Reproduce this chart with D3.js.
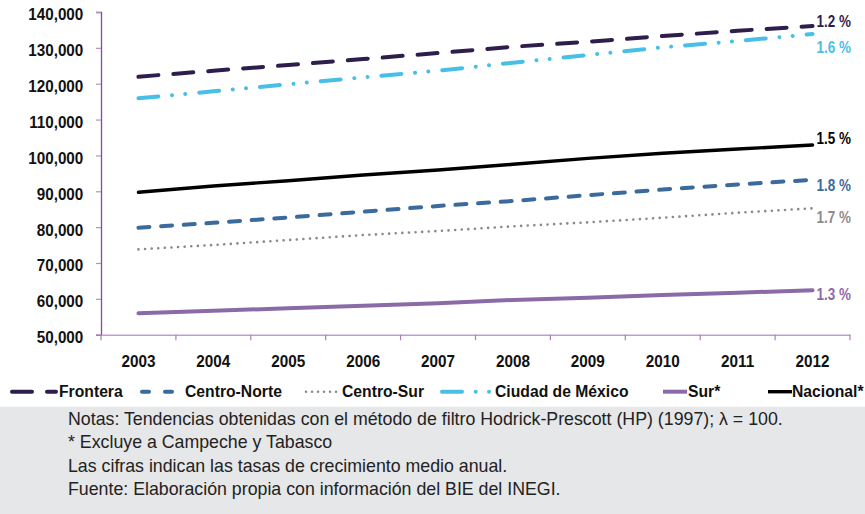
<!DOCTYPE html>
<html><head><meta charset="utf-8">
<script src="https://cdn.jsdelivr.net/npm/d3@7"></script>
<style>
html,body{margin:0;padding:0;background:#fff;}
svg{display:block;font-family:"Liberation Sans",Arial,sans-serif;}
</style></head>
<body>
<svg id="chart" width="865" height="514"></svg>
<script>
// ---------- DATA ----------
const years = [2003, 2004, 2005, 2006, 2007, 2008, 2009, 2010, 2011, 2012];
const frontera    = [121950, 123620, 125210, 126880, 128560, 130310, 131710, 133300, 134770, 136080];
const centroNorte = [79840, 81200, 82700, 84300, 85900, 87300, 88900, 90500, 91900, 93200];
const centroSur   = [73810, 75010, 76410, 77800, 78920, 80230, 81340, 82630, 84020, 85250];
const cdmx        = [115920, 117880, 119830, 121780, 123620, 125850, 128000, 130150, 131900, 133850];
const sur         = [55970, 56690, 57360, 58090, 58760, 59680, 60320, 61070, 61710, 62380];
const nacional    = [89710, 91470, 92940, 94530, 95930, 97520, 99190, 100590, 101780, 102900];
const seriesNames = ["Frontera", "Centro-Norte", "Centro-Sur", "Ciudad de México", "Sur*", "Nacional*"];
const growthLabels = ["1.2 %", "1.8 %", "1.7 %", "1.6 %", "1.3 %", "1.5 %"];
const yTicks = [50000, 60000, 70000, 80000, 90000, 100000, 110000, 120000, 130000, 140000];
const notes = [
  "Notas: Tendencias obtenidas con el método de filtro Hodrick-Prescott (HP) (1997); λ = 100.",
  "* Excluye a Campeche y Tabasco",
  "Las cifras indican las tasas de crecimiento medio anual.",
  "Fuente: Elaboración propia con información del BIE del INEGI."
];
const seriesValues = [frontera, centroNorte, centroSur, cdmx, sur, nacional];

// ---------- STYLE ----------
const styles = [
  {color:"#2f1d4c", width:4,   dash:"20,15",                         labelColor:"#2f1d4c", labelDy:0.7,
   leg:{x1:12, x2:56, tx:59, dash:"20,15"}},
  {color:"#3b6a9c", width:4,   dash:"11,11.7",                       labelColor:"#3b6a9c", labelDy:10.7,
   leg:{x1:142, x2:173, tx:185, dash:"7,16"}},
  {color:"#8a8a8a", width:2.6, dash:"0.01,6.6",                      labelColor:"#8c8c8c", labelDy:14.4,
   leg:{x1:306, x2:340, tx:342, dash:"0.01,6"}},
  {color:"#48bfe6", width:4,   dash:"20,13.7,0.01,13.3,0.01,14",     labelColor:"#48bfe6", labelDy:19.3,
   leg:{x1:442, x2:490, tx:495, dash:"20,13.7,0.01,13.3,0.01,14"}},
  {color:"#8b6aa8", width:4,   dash:null,                            labelColor:"#8b6aa8", labelDy:9.7,
   leg:{x1:663, x2:687, tx:688, dash:null}},
  {color:"#000000", width:3.4, dash:null,                            labelColor:"#000000", labelDy:-1,
   leg:{x1:768, x2:792, tx:792, dash:null}}
];

const svg = d3.select("#chart");
const W = 865, H = 514;
const plot = {left:101, right:850, top:12, bottom:334.7};

const x = d3.scaleBand().domain(years).range([plot.left, plot.right]).padding(0);
const cx = d => x(d) + x.bandwidth() / 2;
const y = d3.scaleLinear().domain([50000, 140000]).range([plot.bottom, plot.top]);

// helper: measure natural width of text with a given style
function natural(txt, size, weight) {
  const t = svg.append("text").attr("font-size", size).attr("font-weight", weight).text(txt);
  const w = t.node().getComputedTextLength();
  t.remove();
  return w;
}

// footer background
svg.append("rect").attr("x", 0).attr("y", 406.7).attr("width", W).attr("height", H - 406.7).attr("fill", "#e6e7e8");

// ---------- Y AXIS ----------
const ySize = 17.2;
const yScaleX = 55 / natural("140,000", ySize, "bold");
const gy = svg.append("g").attr("transform", `translate(${plot.left},0)`)
  .call(d3.axisLeft(y).tickValues(yTicks).tickSize(5).tickPadding(12.7).tickFormat(d3.format(",")));
gy.select(".domain").attr("stroke", "#8a4a9a").attr("stroke-width", 1.3);
gy.selectAll(".tick line").attr("stroke", "#b690c8").attr("stroke-width", 1.2);
gy.selectAll(".tick text")
  .attr("font-family", null).attr("font-size", ySize).attr("font-weight", "bold").attr("fill", "#111")
  .attr("dy", "0.46em")
  .attr("transform", function(){ const xx = +d3.select(this).attr("x"); return `translate(${xx},0) scale(${yScaleX},1)`; })
  .attr("x", 0);
gy.select(".tick:first-of-type line").remove();

// ---------- X AXIS ----------
const xSize = 16.3;
const xScaleX = 34 / natural("2003", xSize, "bold");
const gx = svg.append("g").attr("transform", `translate(0,${plot.bottom})`)
  .call(d3.axisBottom(x).tickSize(0).tickPadding(20.3));
gx.select(".domain").attr("stroke", "#c39bd0").attr("stroke-width", 1.5);
gx.selectAll(".tick text")
  .attr("font-family", null).attr("font-size", xSize).attr("font-weight", "bold").attr("fill", "#111")
  .attr("transform", `scale(${xScaleX},1)`);
// category separator ticks
const sepPos = years.map(d => x(d)).concat([plot.right]);
gx.selectAll(".sep").data(sepPos).enter().append("line")
  .attr("x1", d => d).attr("x2", d => d).attr("y1", 0).attr("y2", 5.5)
  .attr("stroke", "#b07cc2").attr("stroke-width", 1.2);

// ---------- LINES ----------
const line = d3.line().x((d, i) => cx(years[i])).y(d => y(d));
seriesValues.forEach((vals, k) => {
  const s = styles[k];
  svg.append("path").datum(vals)
    .attr("d", line)
    .attr("fill", "none")
    .attr("stroke", s.color)
    .attr("stroke-width", s.width)
    .attr("stroke-linecap", "round")
    .attr("stroke-linejoin", "round")
    .attr("stroke-dasharray", s.dash);
});

// ---------- END LABELS ----------
const lSize = 16.3;
const lScaleX = 34.3 / natural("1.2 %", lSize, "bold");
seriesValues.forEach((vals, k) => {
  const s = styles[k];
  const lx = cx(years[years.length - 1]) + 4;
  const ly = y(vals[vals.length - 1]) + s.labelDy;
  svg.append("text")
    .attr("transform", `translate(${lx},${ly}) scale(${lScaleX},1)`)
    .attr("font-size", lSize).attr("font-weight", "bold").attr("fill", s.labelColor)
    .text(growthLabels[k]);
});

// ---------- LEGEND ----------
const legSize = 16.3;
const legScaleX = 63.7 / natural("Frontera", legSize, "bold");
const legY = 391.7;
seriesNames.forEach((name, k) => {
  const s = styles[k];
  svg.append("line")
    .attr("x1", s.leg.x1).attr("x2", s.leg.x2).attr("y1", legY).attr("y2", legY)
    .attr("stroke", s.color).attr("stroke-width", s.width)
    .attr("stroke-linecap", s.dash ? "round" : "butt")
    .attr("stroke-dasharray", s.leg.dash);
  svg.append("text")
    .attr("transform", `translate(${s.leg.tx},396.7) scale(${legScaleX},1)`)
    .attr("font-size", legSize).attr("font-weight", "bold").attr("fill", "#111")
    .text(name);
});

// ---------- NOTES ----------
const nSize = 17.5;
const nScaleX = 715 / natural(notes[0], nSize, "normal");
const noteY = [425, 448, 471.5, 494.5];
notes.forEach((t, i) => {
  svg.append("text")
    .attr("transform", `translate(68,${noteY[i]}) scale(${nScaleX},1)`)
    .attr("font-size", nSize).attr("fill", "#222")
    .text(t);
});
</script>
</body></html>
